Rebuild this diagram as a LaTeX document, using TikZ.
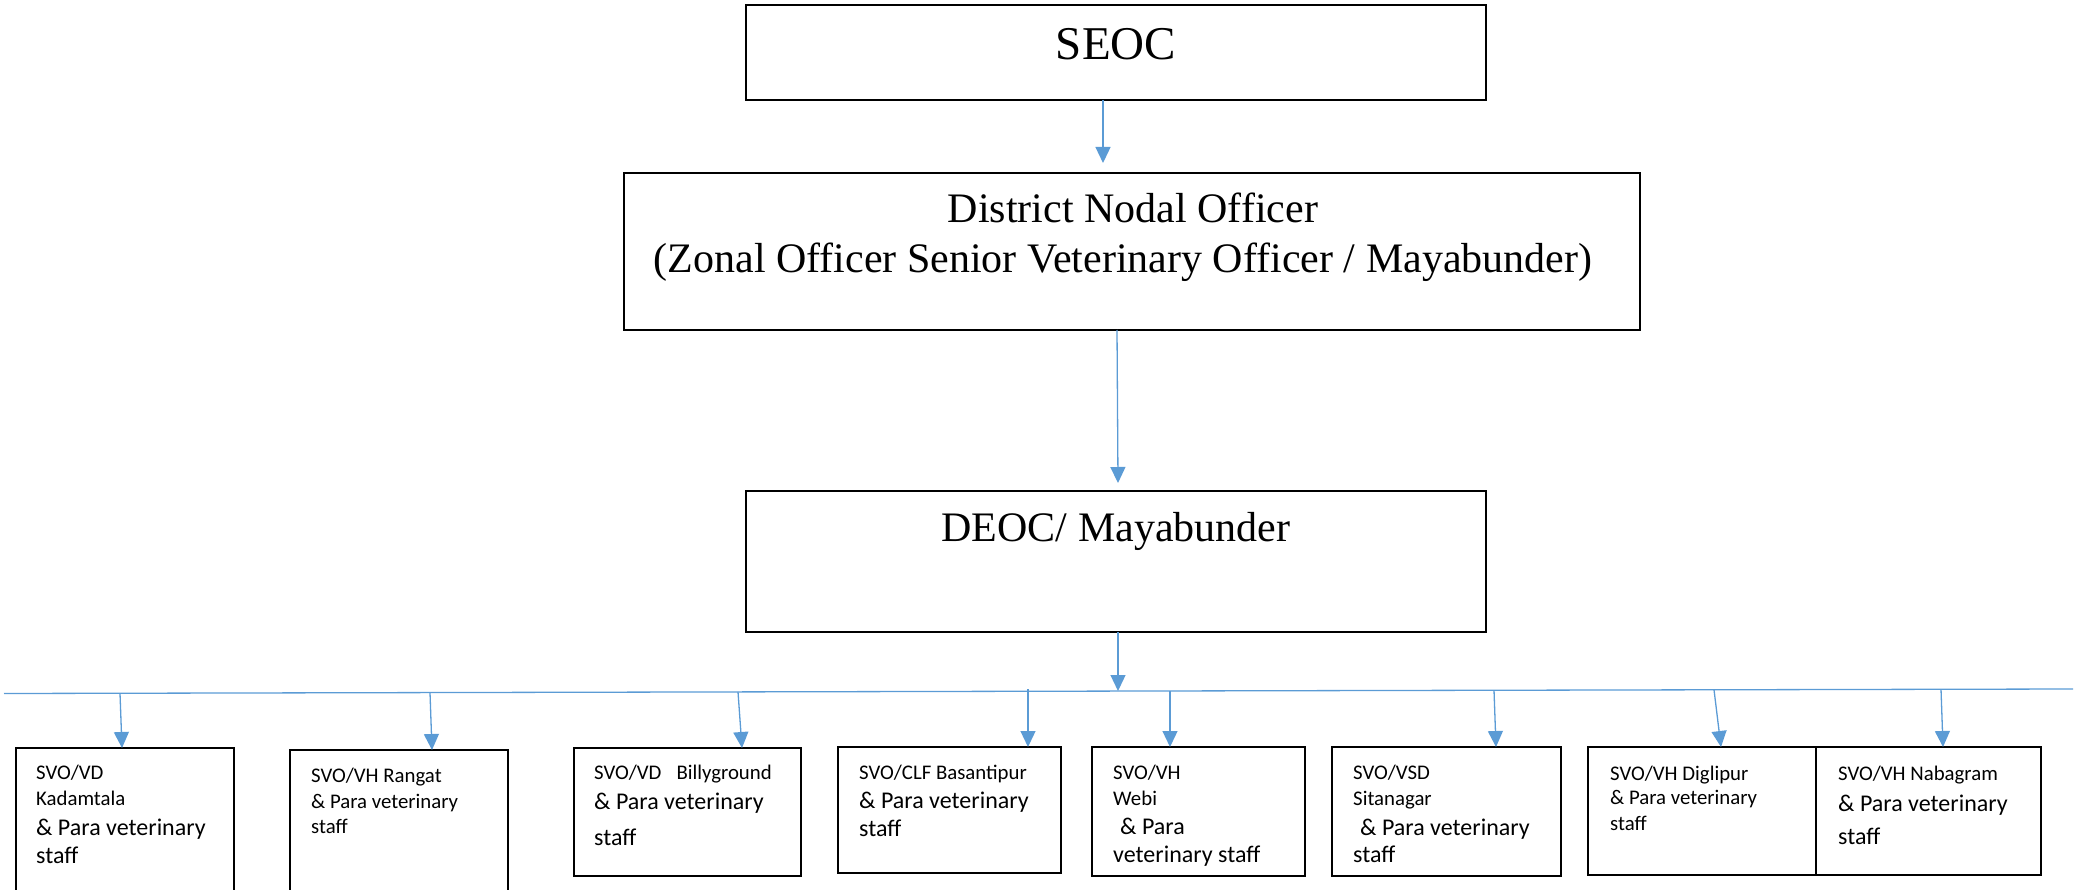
\documentclass[tikz,border=0pt]{standalone}
\usepackage{fontspec}
\setmainfont{Liberation Serif}
\newfontfamily\calfont{Carlito}
\usetikzlibrary{arrows.meta}
\definecolor{arrblue}{HTML}{5B9BD5}
\begin{document}
\begin{tikzpicture}[x=1pt,y=-1pt,
  box/.style={draw=black,line width=2pt,inner sep=0pt,outer sep=0pt,anchor=north west},
  arr/.style={draw=arrblue,line width=1.3pt,-{Triangle[length=16pt,width=15pt]}},
  bus/.style={draw=arrblue,line width=1.3pt},
  big/.style={font=\fontsize{42}{50}\selectfont,anchor=base,inner sep=0pt},
  sm/.style={font=\calfont\fontsize{20.8}{25}\selectfont,anchor=base west,inner sep=0pt},
  lg/.style={font=\calfont\fontsize{24}{29}\selectfont,anchor=base west,inner sep=0pt}]
\useasboundingbox (0,0) rectangle (2084,890);
\clip (0,0) rectangle (2084,890);

% top boxes
\node[box,minimum width=740pt,minimum height=95pt] (seoc) at (746,5) {};
\node[box,minimum width=1016pt,minimum height=157pt] (dno) at (624,173) {};
\node[box,minimum width=740pt,minimum height=141pt] (deoc) at (746,491) {};

\node[big,font=\fontsize{47}{56}\selectfont] (seoct) at (1116,60) {SEOC};
\node[big] (dnot1) at (1133,223) {District Nodal Officer};
\node[big] (dnot2) at (1123,273) {(Zonal Officer Senior Veterinary Officer / Mayabunder)};
\node[big] (deoct) at (1116,541) {DEOC/ Mayabunder};

\draw[arr] ([xshift=-13pt]seoc.south) -- ([xshift=-29pt,yshift=10pt]dno.north);
\draw[arr] ([xshift=-15pt]dno.south) -- ([xshift=2pt,yshift=8pt]deoc.north);

% bus
\coordinate (busL) at (4,693.5);
\coordinate (busR) at (2073,689);
\coordinate (bj) at (1118,691);
\draw[bus] (busL) -- (busR);
\draw[arr] ([xshift=2pt]deoc.south) -- (bj);

% bottom boxes
\node[box,minimum width=218pt,minimum height=160pt] (b1) at (16,748) {};
\node[box,minimum width=218pt,minimum height=160pt] (b2) at (290,750) {};
\node[box,minimum width=227pt,minimum height=128pt] (b3) at (574,748) {};
\node[box,minimum width=223pt,minimum height=126pt] (b4) at (838,747) {};
\node[box,minimum width=213pt,minimum height=129pt] (b5) at (1092,747) {};
\node[box,minimum width=229pt,minimum height=129pt] (b6) at (1332,747) {};
\node[box,minimum width=228pt,minimum height=128pt] (b7) at (1588,747) {};
\node[box,minimum width=225pt,minimum height=128pt] (b8) at (1816,747) {};

% drop arrows
\coordinate (s1) at (120,693.3);
\coordinate (s2) at (430,692.6);
\coordinate (s3) at (738,691.9);
\coordinate (s4) at (1028,689);
\coordinate (s5) at (1170,691);
\coordinate (s6) at (1494,690.3);
\coordinate (s7) at (1714,689.8);
\coordinate (s8) at (1941,689.3);
\draw[arr] (s1) -- ([xshift=106pt]b1.north west);
\draw[arr] (s2) -- ([xshift=142pt]b2.north west);
\draw[arr] (s3) -- ([xshift=168pt]b3.north west);
\draw[arr] (s4) -- ([xshift=190pt]b4.north west);
\draw[arr] (s5) -- ([xshift=78pt]b5.north west);
\draw[arr] (s6) -- ([xshift=164pt]b6.north west);
\draw[arr] (s7) -- ([xshift=133pt]b7.north west);
\draw[arr] (s8) -- ([xshift=127pt]b8.north west);

% texts
\node[sm] (t1a) at (36,779) {SVO/VD};
\node[sm] (t1b) at (36,805) {Kadamtala};
\node[lg] (t1c) at (36,835) {\& Para veterinary};
\node[lg] (t1d) at (36,863) {staff};

\node[sm] (t2a) at (311,782) {SVO/VH Rangat};
\node[sm] (t2b) at (311,808) {\& Para veterinary};
\node[sm] (t2c) at (311,833) {staff};

\node[sm] (t3a) at (594,779) {SVO/VD\hspace{15pt}Billyground};
\node[lg] (t3b) at (594,809) {\& Para veterinary};
\node[lg] (t3c) at (594,845) {staff};

\node[sm] (t4a) at (859,779) {SVO/CLF Basantipur};
\node[lg] (t4b) at (859,808) {\& Para veterinary};
\node[lg] (t4c) at (859,836) {staff};

\node[sm] (t5a) at (1113,779) {SVO/VH};
\node[sm] (t5b) at (1113,805) {Webi};
\node[lg] (t5c) at (1120,834) {\& Para};
\node[lg] (t5d) at (1113,862) {veterinary staff};

\node[sm] (t6a) at (1353,779) {SVO/VSD};
\node[sm] (t6b) at (1353,805) {Sitanagar};
\node[lg] (t6c) at (1360,835) {\& Para veterinary};
\node[lg] (t6d) at (1353,862) {staff};

\node[sm] (t7a) at (1610,780) {SVO/VH Diglipur};
\node[sm] (t7b) at (1610,804) {\& Para veterinary};
\node[sm] (t7c) at (1610,830.5) {staff};

\node[sm] (t8a) at (1838,780) {SVO/VH Nabagram};
\node[lg] (t8b) at (1838,811) {\& Para veterinary};
\node[lg] (t8c) at (1838,844) {staff};
\end{tikzpicture}
\end{document}
